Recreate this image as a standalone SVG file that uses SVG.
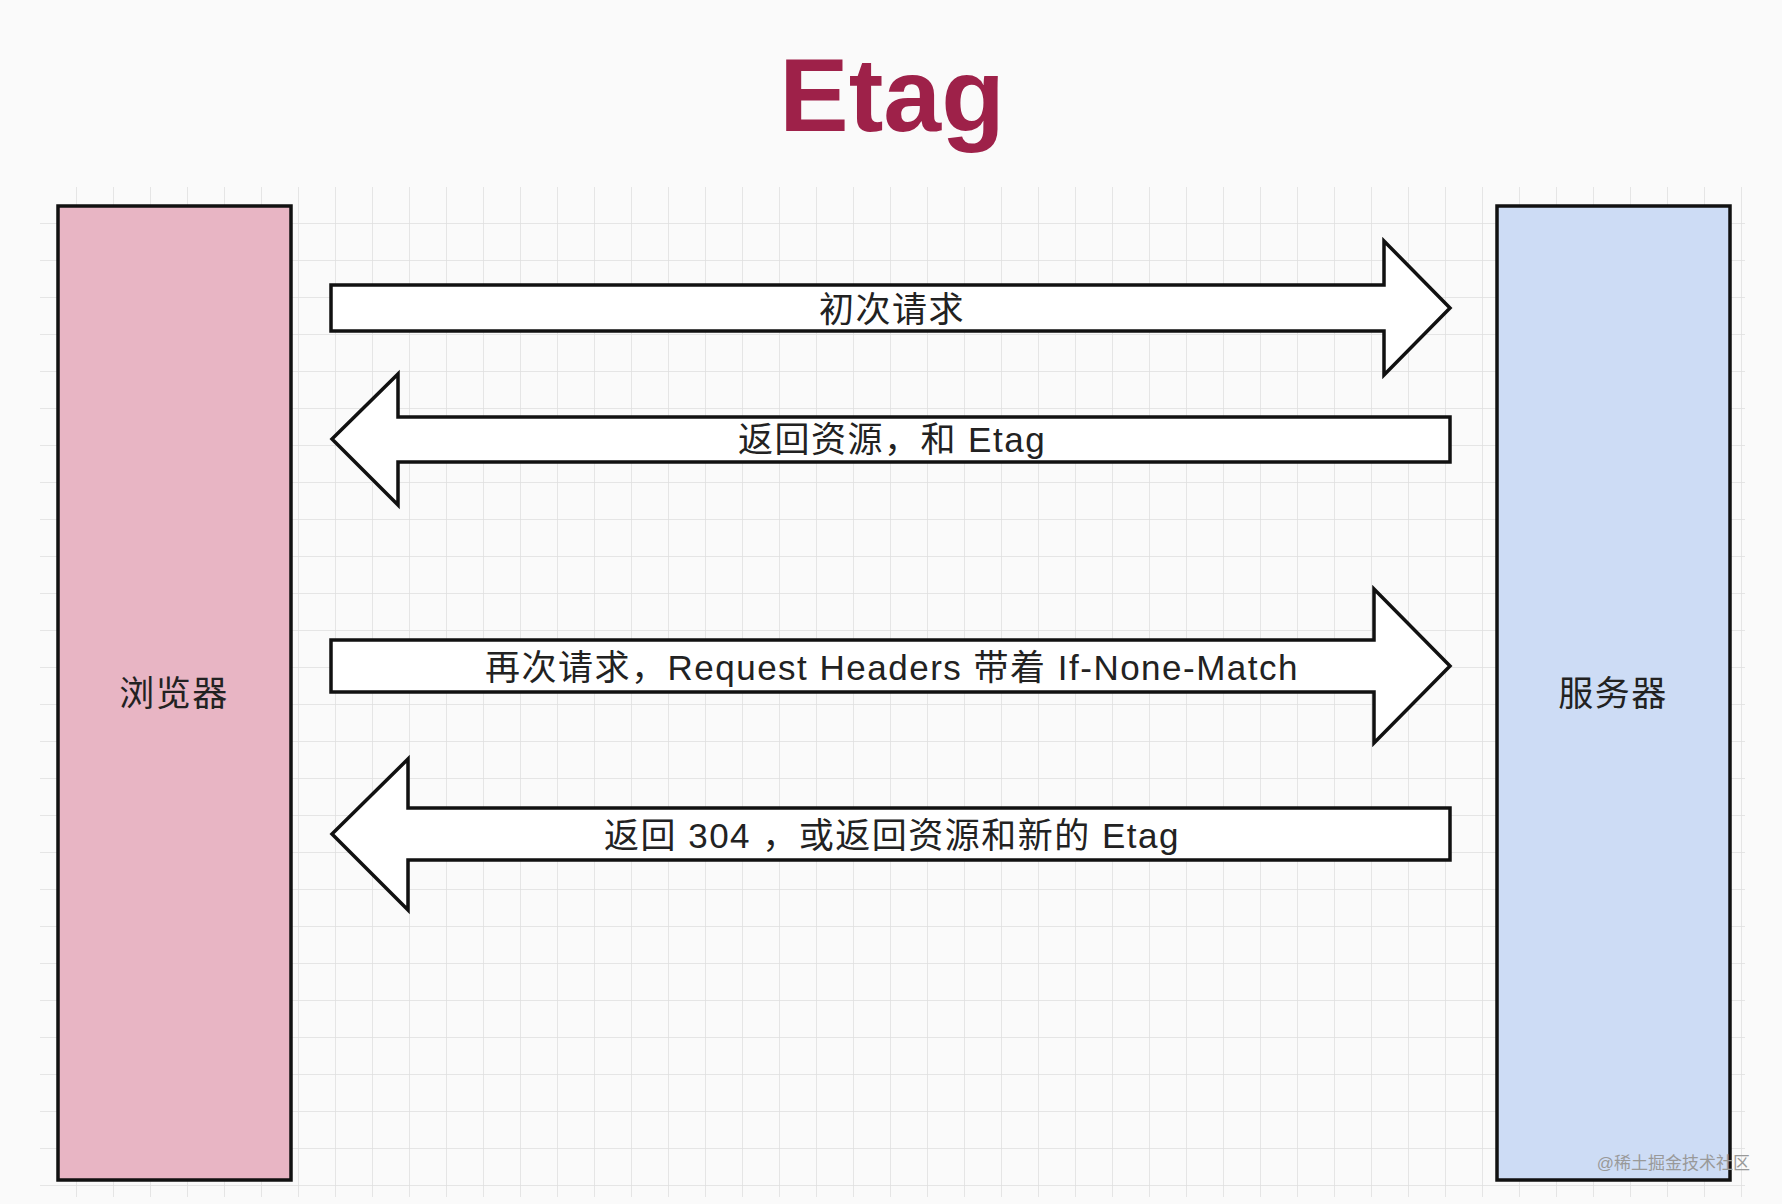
<svg xmlns="http://www.w3.org/2000/svg" width="1782" height="1204" viewBox="0 0 1782 1204">
<style>
.lbl{font-family:"Liberation Sans","Noto Sans CJK SC",sans-serif;font-size:35px;letter-spacing:1.5px;fill:#222;text-anchor:middle}
.arrow{fill:#fff;stroke:#111;stroke-width:3.5;stroke-linejoin:miter}
.box{stroke:#111;stroke-width:3.5}
</style>
<defs>
<pattern id="grid" x="40" y="187" width="37" height="37" patternUnits="userSpaceOnUse">
<path d="M37 0V37H0" fill="none" stroke="#dedede" stroke-width="1.5"/>
</pattern>
</defs>
<rect width="1782" height="1204" fill="#fafafa"/>
<rect x="40" y="187" width="1705" height="1010" fill="url(#grid)"/>
<text x="892" y="131" font-family="Liberation Sans,Noto Sans,sans-serif" font-weight="bold" font-size="104" fill="#9e2149" text-anchor="middle">Etag</text>
<g id="browser">
<rect class="box" x="58" y="206" width="233" height="974" fill="#e8b5c4"/>
<text class="lbl" x="174" y="706" font-size="36">浏览器</text>
</g>
<g id="server">
<rect class="box" x="1497" y="206" width="233" height="974" fill="#cddcf5"/>
<text class="lbl" x="1613" y="706" font-size="36">服务器</text>
</g>
<g id="connectors">
<g id="a1"><path class="arrow" d="M331 285H1384V241L1450 308L1384 375V331H331Z"/><text class="lbl" x="892" y="322">初次请求</text></g>
<g id="a2"><path class="arrow" d="M1450 417H398V374L332 439L398 505V462H1450Z"/><text class="lbl" x="892" y="452">返回资源，和 Etag</text></g>
<g id="a3"><path class="arrow" d="M331 640H1374V589L1450 666L1374 743V692H331Z"/><text class="lbl" x="892" y="680">再次请求，Request Headers 带着 If-None-Match</text></g>
<g id="a4"><path class="arrow" d="M1450 808H408V759L332 834L408 910V860H1450Z"/><text class="lbl" x="892" y="848">返回 304 ，或返回资源和新的 Etag</text></g>
</g>
<text x="1750" y="1169" font-family="Liberation Sans,Noto Sans CJK SC,sans-serif" font-size="17" fill="#999" text-anchor="end">@稀土掘金技术社区</text>
</svg>
